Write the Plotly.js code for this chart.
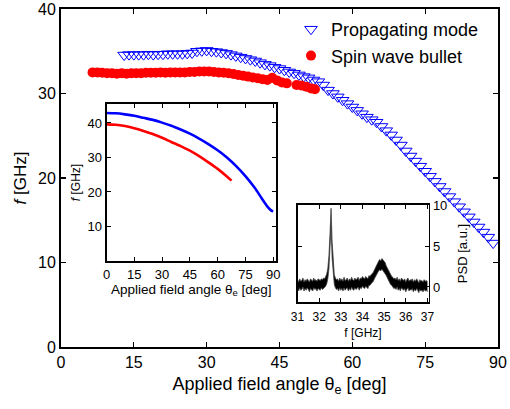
<!DOCTYPE html>
<html>
<head>
<meta charset="utf-8">
<script src="https://cdn.plot.ly/plotly-3.0.1.min.js"></script>
<style>html,body{margin:0;padding:0;background:#fff;}#chart{width:510px;height:409px;}</style>
</head>
<body>
<div id="chart"></div>
<script>
// Main panel: propagating mode (blue open down-triangles)
const propAngle = [13,14,15,16,17,18,19,20,21,22,23,24,25,26,27,28,29,30,31,32,33,34,35,36,37,38,39,40,41,42,43,44,45,46,47,48,49,50,51,52,53,54,55,56,57,58,59,60,61,62,63,64,65,66,67,68,69,70,71,72,73,74,75,76,77,78,79,80,81,82,83,84,85,86,87,88,89];
const propFreq = [34.55,34.6,34.6,34.6,34.6,34.65,34.6,34.65,34.65,34.7,34.7,34.7,34.7,34.75,34.8,35.0,35.05,35.1,35.0,34.95,34.85,34.75,34.6,34.45,34.3,34.15,34.0,33.85,33.65,33.45,33.3,33.1,32.95,32.75,32.55,32.4,32.2,32.0,31.85,31.6,31.4,31.0,30.4,30.0,29.6,29.2,28.8,28.4,28.0,27.6,27.2,26.9,26.6,26.1,25.6,25.1,24.5,23.9,23.2,22.6,22.0,21.4,20.8,20.2,19.6,19.0,18.4,17.8,17.2,16.6,16.0,15.4,14.8,14.2,13.6,13.0,12.3];

// Main panel: spin wave bullet (red filled circles)
const bulletAngle = [6.5,7.5,8.5,9.5,10.5,11.5,12.5,13.5,14.5,15.5,16.5,17.5,18.5,19.5,20.5,21.5,22.5,23.5,24.5,25.5,26.5,27.5,28.5,29.5,30.5,31.5,32.5,33.5,34.5,35.5,36.5,37.5,38.5,39.5,40.5,41.5,42.5,43.5,44.5,45.5,46.5,48.5,49.5,50.5,51.5,52.3];
const bulletFreq = [32.5,32.5,32.45,32.4,32.4,32.35,32.4,32.35,32.4,32.4,32.4,32.45,32.45,32.45,32.5,32.45,32.5,32.5,32.5,32.5,32.55,32.55,32.6,32.6,32.6,32.55,32.5,32.45,32.4,32.3,32.2,32.1,32.0,31.9,31.8,31.7,31.6,31.85,31.55,31.3,31.2,31.0,30.95,30.8,30.6,30.5];

// Inset 1: theoretical curves
const theoPropAngle = [0,5,10,15,20,25,30,35,40,45,50,55,60,65,70,75,80,84,87,89,90];
const theoPropFreq = [42.9,42.8,42.5,42.1,41.5,40.9,40.1,39.2,38.1,36.9,35.5,33.9,32.1,30.0,27.5,24.6,21.2,18.0,15.7,14.6,14.4];
const theoBulletAngle = [0,5,10,15,20,25,30,35,40,45,50,55,60,65,67.5];
const theoBulletFreq = [39.6,39.5,39.1,38.5,37.7,36.8,35.7,34.5,33.3,32.0,30.4,28.6,26.7,24.5,23.3];

// Inset 2: PSD spectrum band (31 to 37 GHz, 0.05 GHz steps)
const psdStart = 31, psdStep = 0.05;
const psdUpper = [0.9,0.6,1.0,0.7,0.8,1.1,0.6,0.9,0.7,1.0,0.8,0.6,1.0,0.9,0.7,1.1,0.8,0.9,0.7,1.0,0.9,
  0.8,1.0,0.9,1.1,1.0,1.3,1.6,2.3,3.8,6.5,
  9.7,
  5.5,2.6,1.5,1.1,0.9,1.0,0.7,1.1,0.8,
  1.0,0.7,1.2,0.8,0.9,1.1,0.7,1.0,0.8,1.2,0.9,0.8,1.1,0.9,1.0,1.2,0.8,1.1,1.0,1.3,
  1.1,1.0,1.3,1.2,1.0,1.4,1.3,1.5,1.6,1.8,
  2.1,2.4,2.8,3.0,3.2,3.4,3.2,3.5,3.3,3.1,3.0,2.6,2.3,2.0,1.7,
  1.5,1.3,1.2,1.0,1.1,0.9,1.2,0.8,1.0,0.7,1.1,0.9,0.8,1.0,0.6,0.9,1.1,0.7,0.9,0.8,1.0,0.6,0.9,0.7,1.0,0.8,0.5,0.9,0.7,0.8,0.6,0.9,0.7,0.8,0.6];
const psdLower = [-0.2,-0.5,-0.1,-0.4,-0.3,0.0,-0.5,-0.2,-0.4,-0.1,-0.3,-0.6,-0.2,-0.3,-0.5,-0.1,-0.3,-0.2,-0.5,-0.2,-0.3,
  -0.4,-0.1,-0.3,-0.2,-0.1,0.1,0.4,1.0,2.2,4.5,
  7.5,
  3.5,1.2,0.3,-0.1,-0.3,-0.2,-0.5,-0.1,-0.4,
  -0.2,-0.5,-0.1,-0.4,-0.2,-0.1,-0.5,-0.2,-0.4,0.0,-0.3,-0.4,-0.1,-0.3,-0.2,0.0,-0.4,-0.1,-0.2,0.1,
  -0.1,-0.2,0.1,0.0,-0.2,0.2,0.2,0.4,0.5,0.7,
  1.0,1.3,1.6,1.9,2.0,2.1,2.0,2.2,2.0,1.9,1.7,1.4,1.1,0.8,0.5,
  0.3,0.2,0.0,-0.2,-0.1,-0.3,0.0,-0.4,-0.2,-0.5,-0.1,-0.3,-0.4,-0.2,-0.6,-0.3,-0.1,-0.5,-0.3,-0.4,-0.2,-0.6,-0.3,-0.5,-0.2,-0.4,-0.7,-0.3,-0.5,-0.4,-0.6,-0.3,-0.5,-0.4,-0.6];

const mainTicks = [0,15,30,45,60,75,90];
const insetTicks = [0,15,30,45,60,75,90];
const psdTicks = [31,32,33,34,35,36,37];

const FONT = 'Liberation Sans, Arial, Helvetica, sans-serif';
const W = 510, H = 409;
const px = v => v / W;
const py = v => 1 - v / H;

const traces = [
  {x: propAngle, y: propFreq, type: 'scatter', mode: 'markers', name: 'Propagating mode',
   marker: {symbol: 'triangle-down-open', size: 11, color: '#0000ff', line: {width: 1, color: '#0000ff'}},
   xaxis: 'x', yaxis: 'y'},
  {x: bulletAngle, y: bulletFreq, type: 'scatter', mode: 'markers', name: 'Spin wave bullet',
   marker: {symbol: 'circle', size: 10, color: '#ff0000'}, xaxis: 'x', yaxis: 'y'},
  {x: theoPropAngle, y: theoPropFreq, type: 'scatter', mode: 'lines', line: {color: '#0000ff', width: 2.6, shape: 'spline', smoothing: 0.8},
   showlegend: false, xaxis: 'x2', yaxis: 'y2'},
  {x: theoBulletAngle, y: theoBulletFreq, type: 'scatter', mode: 'lines', line: {color: '#ff0000', width: 2.6, shape: 'spline', smoothing: 0.8},
   showlegend: false, xaxis: 'x2', yaxis: 'y2'},
  {x0: psdStart, dx: psdStep, y: psdLower, type: 'scatter', mode: 'lines', line: {color: '#444', width: 0.8},
   showlegend: false, xaxis: 'x3', yaxis: 'y3'},
  {x0: psdStart, dx: psdStep, y: psdUpper, type: 'scatter', mode: 'lines', line: {color: '#444', width: 0.8},
   fill: 'tonexty', fillcolor: '#000', showlegend: false, xaxis: 'x3', yaxis: 'y3'}
];

const axBase = {showgrid: false, zeroline: false, showline: true, linecolor: '#000', mirror: 'ticks',
  ticks: 'inside', tickcolor: '#000', color: '#000'};

const layout = {
  width: W, height: H,
  margin: {l: 0, r: 0, t: 0, b: 0},
  paper_bgcolor: '#fff', plot_bgcolor: 'rgba(0,0,0,0)',
  font: {family: FONT, color: '#000'},
  showlegend: true,
  legend: {x: px(291), y: py(11), xanchor: 'left', yanchor: 'top', bgcolor: 'rgba(0,0,0,0)',
    font: {size: 18, family: FONT}, tracegroupgap: 0, traceorder: 'normal', itemsizing: 'trace'},
  xaxis: Object.assign({}, axBase, {domain: [px(61), px(498)], range: [0, 90], tickvals: mainTicks,
    ticklen: 5, linewidth: 2, tickwidth: 1.2, tickfont: {size: 16}, anchor: 'y',
    title: {text: 'Applied field angle θ<sub>e</sub> [deg]', font: {size: 18}, standoff: 7}}),
  yaxis: Object.assign({}, axBase, {domain: [py(347), py(9)], range: [0, 40], tickvals: [0,10,20,30,40],
    ticklen: 5, linewidth: 2, tickwidth: 1.2, tickfont: {size: 16}, anchor: 'x',
    title: {text: '<i>f</i> [GHz]', font: {size: 17}, standoff: 7}}),
  xaxis2: Object.assign({}, axBase, {domain: [px(106.5), px(276)], range: [0, 91.5], tickvals: insetTicks,
    ticklen: 4, linewidth: 2, tickwidth: 1, tickfont: {size: 13}, anchor: 'y2',
    title: {text: 'Applied field angle θ<sub>e</sub> [deg]', font: {size: 13.5}, standoff: 2}}),
  yaxis2: Object.assign({}, axBase, {domain: [py(261), py(104)], range: [0, 45.5], tickvals: [10,20,30,40],
    ticklen: 4, linewidth: 2, tickwidth: 1, tickfont: {size: 13}, anchor: 'x2',
    title: {text: '<i>f</i> [GHz]', font: {size: 12}, standoff: 4}}),
  xaxis3: Object.assign({}, axBase, {domain: [px(297.5), px(428.5)], range: [31, 37.05], tickvals: psdTicks,
    ticklen: 4, linewidth: 1.8, tickwidth: 1, tickfont: {size: 12}, anchor: 'y3', ticklabelstandoff: 3,
    title: {text: 'f [GHz]', font: {size: 12}, standoff: 5}}),
  yaxis3: Object.assign({}, axBase, {domain: [py(302), py(205)], range: [-1.85, 10.1], tickvals: [0,5,10],
    ticklen: 4, linewidth: 1.8, tickwidth: 1, tickfont: {size: 13}, anchor: 'x3', side: 'right',
    title: {text: 'PSD [a.u.]', font: {size: 13}, standoff: 11}})
};

Plotly.newPlot('chart', traces, layout, {displayModeBar: false, staticPlot: true});
</script>
</body>
</html>
